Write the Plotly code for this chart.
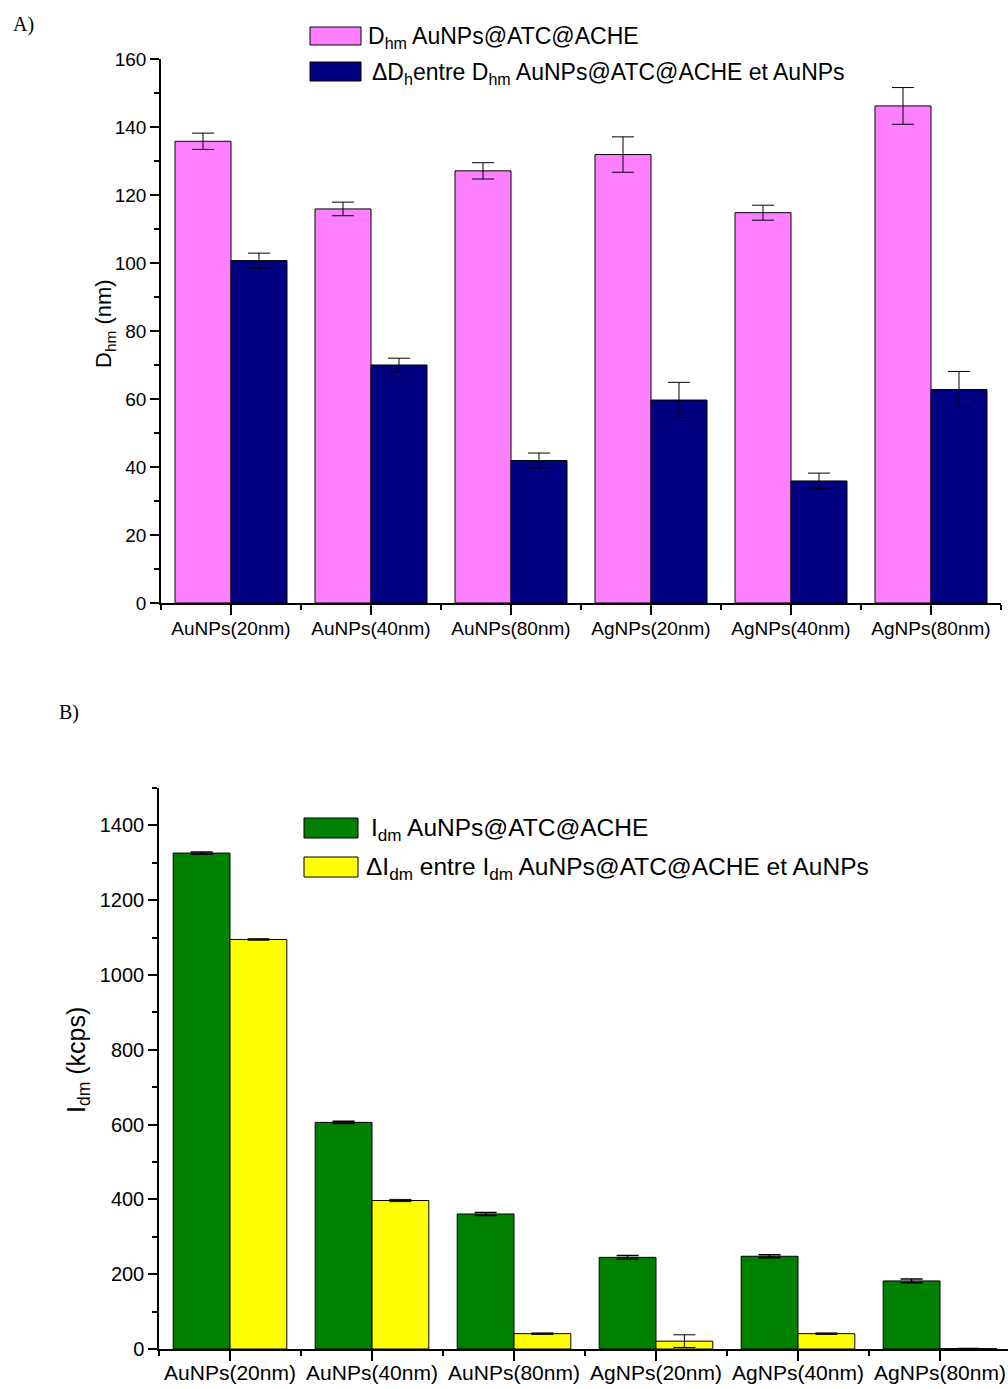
import plotly.graph_objects as go

categories = ["AuNPs(20nm)", "AuNPs(40nm)", "AuNPs(80nm)", "AgNPs(20nm)", "AgNPs(40nm)", "AgNPs(80nm)"]

# Panel A : hydrodynamic diameters (nm)
dhm = [135.8, 115.9, 127.1, 131.9, 114.8, 146.2]
dhm_err = [2.4, 2.0, 2.4, 5.2, 2.2, 5.4]
delta_dh = [100.7, 70.0, 41.9, 59.7, 35.9, 62.8]
delta_dh_err = [2.2, 2.0, 2.2, 5.2, 2.3, 5.3]

# Panel B : scattered intensities (kcps)
idm = [1326, 606, 361, 245, 248, 182]
idm_err = [3, 3, 4, 5, 4, 5]
delta_idm = [1095, 397, 41, 21, 41, 1]
delta_idm_err = [2, 3, 2, 17, 2, 1]

W, H = 1008, 1389
FONT = "Liberation Sans, Arial, sans-serif"
SERIF = "Liberation Serif, Times New Roman, serif"

def px(x):
    return x / W

def py(y):
    return 1 - y / H

xs = list(range(len(categories)))

fig = go.Figure()

def add_bar(y, err, color, xa, ya, width_cap, thick):
    fig.add_trace(go.Bar(
        x=xs, y=y, xaxis=xa, yaxis=ya, showlegend=False,
        marker=dict(color=color, line=dict(color="black", width=1)),
        error_y=dict(type="data", array=err, color="black", thickness=thick, width=width_cap),
    ))

add_bar(dhm, dhm_err, "#FF80FF", "x", "y", 11, 1)
add_bar(delta_dh, delta_dh_err, "#000080", "x", "y", 11, 1)
add_bar(idm, idm_err, "#008000", "x2", "y2", 11, 1.5)
add_bar(delta_idm, delta_idm_err, "#FFFF00", "x2", "y2", 11, 1)

axis_common = dict(
    showline=True, linecolor="black", linewidth=1.5, showgrid=False, zeroline=False,
    ticks="outside", tickcolor="black", tickwidth=1.5, color="black", automargin=False,
)

minor_x = dict(tickvals=[i - 0.5 for i in range(len(categories) + 1)], ticklen=5,
               tickcolor="black", tickwidth=1.5, ticks="outside", showgrid=False)

fig.update_layout(
    template="none",
    width=W, height=H, autosize=False,
    margin=dict(l=0, r=0, t=0, b=0, pad=0),
    paper_bgcolor="white", plot_bgcolor="white",
    font=dict(family=FONT, color="black"),
    barmode="group", bargap=0.2, bargroupgap=0,
    xaxis=dict(axis_common, domain=[px(161), px(1001)], anchor="y", range=[-0.5, 5.5],
               tickvals=xs, ticktext=categories, ticklen=10, tickfont=dict(size=19),
               ticklabelstandoff=-3, minor=minor_x),
    yaxis=dict(axis_common, domain=[py(603), py(59)], anchor="x", range=[0, 160],
               dtick=20, ticklen=9, tickfont=dict(size=19),
               minor=dict(dtick=10, ticklen=5, ticks="outside", tickcolor="black", tickwidth=1.5, showgrid=False)),
    xaxis2=dict(axis_common, domain=[px(159), 1], anchor="y2", range=[-0.5, -0.5 + 849 / 142],
                tickvals=xs, ticktext=categories, ticklen=10, tickfont=dict(size=21),
                ticklabelstandoff=-6, minor=minor_x),
    yaxis2=dict(axis_common, domain=[py(1349), py(788)], anchor="x2", range=[0, 1500],
                dtick=200, ticklen=9, tickfont=dict(size=20),
                minor=dict(dtick=100, ticklen=5, ticks="outside", tickcolor="black", tickwidth=1.5, showgrid=False)),
)

shapes = []
annotations = []

def swatch(x0, y0, x1, y1, color):
    shapes.append(dict(type="rect", xref="paper", yref="paper",
                       x0=px(x0), x1=px(x1), y0=py(y1), y1=py(y0),
                       fillcolor=color, line=dict(color="black", width=1)))

def text(x, y, t, size, anchor="left", font=FONT, angle=0):
    annotations.append(dict(xref="paper", yref="paper", x=px(x), y=py(y), text=t,
                            showarrow=False, xanchor=anchor, yanchor="middle",
                            textangle=angle, font=dict(family=font, size=size, color="black")))

# Panel labels
text(11, 25, "A)", 20, font=SERIF)
text(57, 712, "B)", 20, font=SERIF)

# Legend A
swatch(310, 27, 361, 45, "#FF80FF")
swatch(310, 62, 361, 81, "#000080")
text(366, 38, "D<sub>hm</sub> AuNPs@ATC@ACHE", 23)
text(370, 73, "\u0394D<sub>h</sub>entre D<sub>hm</sub> AuNPs@ATC@ACHE et AuNPs", 23)

# Legend B
swatch(304, 818, 358, 838, "#008000")
swatch(304, 857, 358, 877, "#FFFF00")
text(369, 829, "I<sub>dm</sub> AuNPs@ATC@ACHE", 24.5)
text(364, 868, "\u0394I<sub>dm</sub> entre I<sub>dm</sub> AuNPs@ATC@ACHE et AuNPs", 24.5)

# Axis titles
text(105, 324, "D<sub>hm</sub> (nm)", 22, anchor="center", angle=-90)
text(78, 1060, "I<sub>dm</sub> (kcps)", 25, anchor="center", angle=-90)

fig.update_layout(shapes=shapes, annotations=annotations)

fig.write_html("out.html", config={"displayModeBar": False},
               post_script="document.body.style.margin='0';document.body.style.overflow='hidden';")
